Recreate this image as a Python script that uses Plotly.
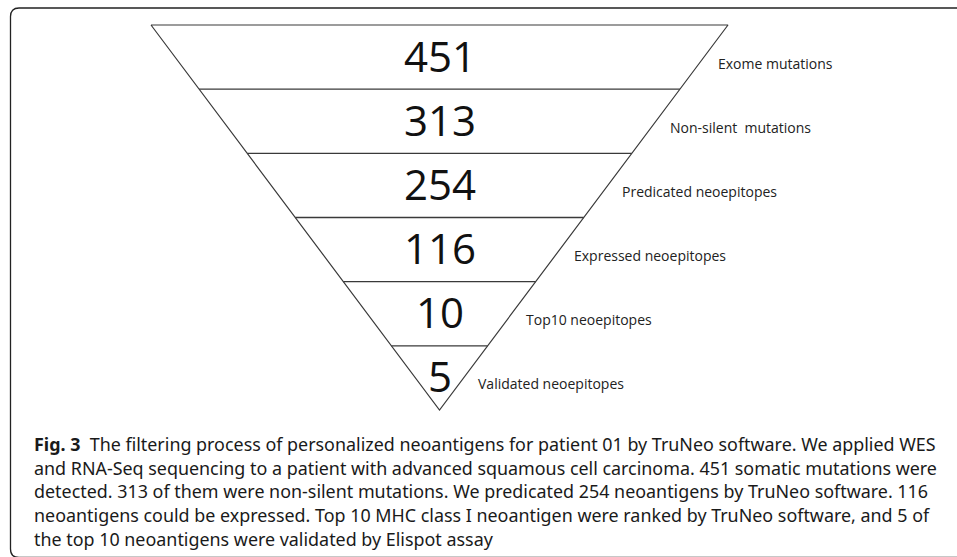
import plotly.graph_objects as go

# ---- data ----
stage_values = [451, 313, 254, 116, 10, 5]
stage_labels = [
    "Exome mutations",
    "Non-silent  mutations",
    "Predicated neoepitopes",
    "Expressed neoepitopes",
    "Top10 neoepitopes",
    "Validated neoepitopes",
]
caption_lines = [
    "<b>Fig. 3</b>  The filtering process of personalized neoantigens for patient 01 by TruNeo software. We applied WES",
    "and RNA-Seq sequencing to a patient with advanced squamous cell carcinoma. 451 somatic mutations were",
    "detected. 313 of them were non-silent mutations. We predicated 254 neoantigens by TruNeo software. 116",
    "neoantigens could be expressed. Top 10 MHC class I neoantigen were ranked by TruNeo software, and 5 of",
    "the top 10 neoantigens were validated by Elispot assay",
]

# ---- layout geometry (pixel-like coordinate system) ----
W, H = 957, 557
cx = 439.5
top_y = 25.0
apex_y = 410.0
half_top = 288.5
n = len(stage_values)
band_h = (apex_y - top_y) / n


def half_width(y):
    return half_top * (apex_y - y) / (apex_y - top_y)


fig = go.Figure()

line_col = "#3a3a3a"
# triangle outline
fig.add_trace(go.Scatter(
    x=[cx - half_top, cx + half_top, cx, cx - half_top],
    y=[top_y, top_y, apex_y, top_y],
    mode="lines", line=dict(color=line_col, width=1.2),
    hoverinfo="skip", showlegend=False))

# band separators
for k in range(1, n):
    y = top_y + k * band_h
    hw = half_width(y)
    fig.add_trace(go.Scatter(
        x=[cx - hw, cx + hw], y=[y, y], mode="lines",
        line=dict(color=line_col, width=1.4),
        hoverinfo="skip", showlegend=False))

annotations = []
for i, (v, lab) in enumerate(zip(stage_values, stage_labels)):
    yc = top_y + (i + 0.5) * band_h
    annotations.append(dict(
        x=cx, y=yc - 2, xref="x", yref="y", text=str(v), showarrow=False,
        font=dict(family="Open Sans", size=42, color="#111111"),
        xanchor="center", yanchor="middle"))
    ly = yc + 6
    annotations.append(dict(
        x=cx + half_width(ly) + 17, y=ly, xref="x", yref="y", text=lab,
        showarrow=False,
        font=dict(family="Open Sans", size=14, color="#222222"),
        xanchor="left", yanchor="middle"))

cap_y0 = 444
cap_dy = 23.7
for j, line in enumerate(caption_lines):
    annotations.append(dict(
        x=32, y=cap_y0 + j * cap_dy, xref="x", yref="y", text=line,
        showarrow=False,
        font=dict(family="Noto Sans", size=17.9, color="#1a1a1a"),
        xanchor="left", yanchor="middle"))

# rounded border (left, top, partial bottom)
border_path = ("M 957 8 L 19 8 Q 10.5 8 10.5 16.5 L 10.5 549 "
               "Q 10.5 557.5 19 557.5 L 957 557.5")

fig.update_layout(
    width=W, height=H,
    margin=dict(l=0, r=0, t=0, b=0),
    paper_bgcolor="white", plot_bgcolor="white",
    xaxis=dict(range=[0, W], visible=False, fixedrange=True),
    yaxis=dict(range=[H, 0], visible=False, fixedrange=True),
    annotations=annotations,
    shapes=[dict(type="path", path=border_path, xref="x", yref="y",
                 line=dict(color="#222222", width=1.3))],
    showlegend=False,
)

fig.write_html(
    "out.html",
    config={"displayModeBar": False},
    post_script="document.body.style.margin='0';document.body.style.overflow='hidden';",
)
